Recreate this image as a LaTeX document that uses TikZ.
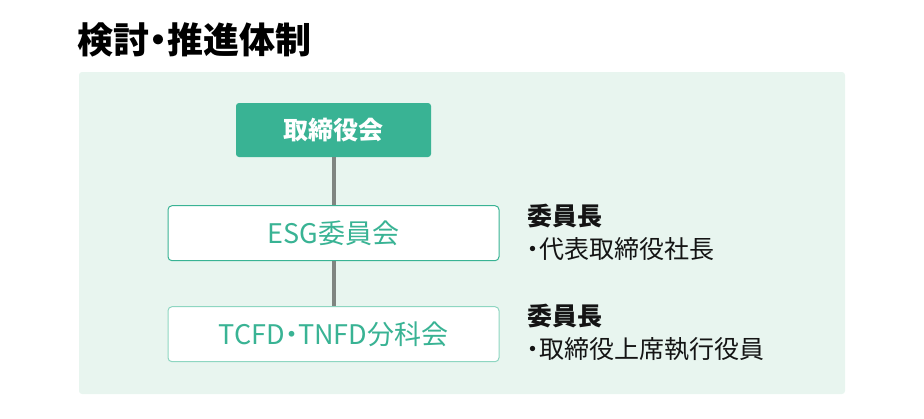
\documentclass[tikz,border=0pt]{standalone}
\usepackage{fontspec}
\setmainfont{Noto Sans CJK JP}[RawFeature={+palt}]
\usepackage{xcolor}
\usepackage{tikz}
\usetikzlibrary{positioning}
\definecolor{boardgreen}{RGB}{57, 179, 148}
\definecolor{panelgreen}{RGB}{232, 245, 239}
\definecolor{paleborder}{RGB}{142, 214, 193}
\definecolor{linegray}{RGB}{128, 133, 129}
\definecolor{textblack}{RGB}{20, 20, 20}

\begin{document}
\begin{tikzpicture}[
			x=1pt, y=-1pt,
			node distance=48pt,
			board/.style={rectangle, rounded corners=3pt, fill=boardgreen, draw=none, text=white, font=\fontsize{25}{30}\selectfont\bfseries, minimum width=195pt, minimum height=54pt},
			committee/.style={rectangle, rounded corners=4pt, fill=white, draw=boardgreen, line width=1pt, text=boardgreen, font=\fontsize{27}{30}\selectfont, minimum width=331pt, minimum height=55pt},
			chair/.style={anchor=north west, align=left, inner sep=0pt, text=textblack, font=\fontsize{25}{33}\selectfont},
			link/.style={line width=4pt, draw=linegray}
		]

		\useasboundingbox (0,0) rectangle (924,418);
		\fill[panelgreen, rounded corners=3pt] (79,72) rectangle (845,394);

		\node (title) [anchor=west, inner sep=0pt, text=black, font=\fontsize{36}{40}\selectfont\bfseries] at (77,40) {検討・推進体制};

		\node (board) [board] at (333.5,130) {取締役会};

		\node (esg) [committee, below=48pt of board] {ESG委員会};
		\node (esgchair) [chair] at (527,204) {{\bfseries 委員長}\\・代表取締役社長};

		\node (tcfd) [committee, draw=paleborder, below=45pt of esg] {TCFD・TNFD分科会};
		\node (tcfdchair) [chair] at (527,304) {{\bfseries 委員長}\\・取締役上席執行役員};

		\draw[link] (board) -- (esg);
		\draw[link] (esg) -- (tcfd);

	\end{tikzpicture}
\end{document}
